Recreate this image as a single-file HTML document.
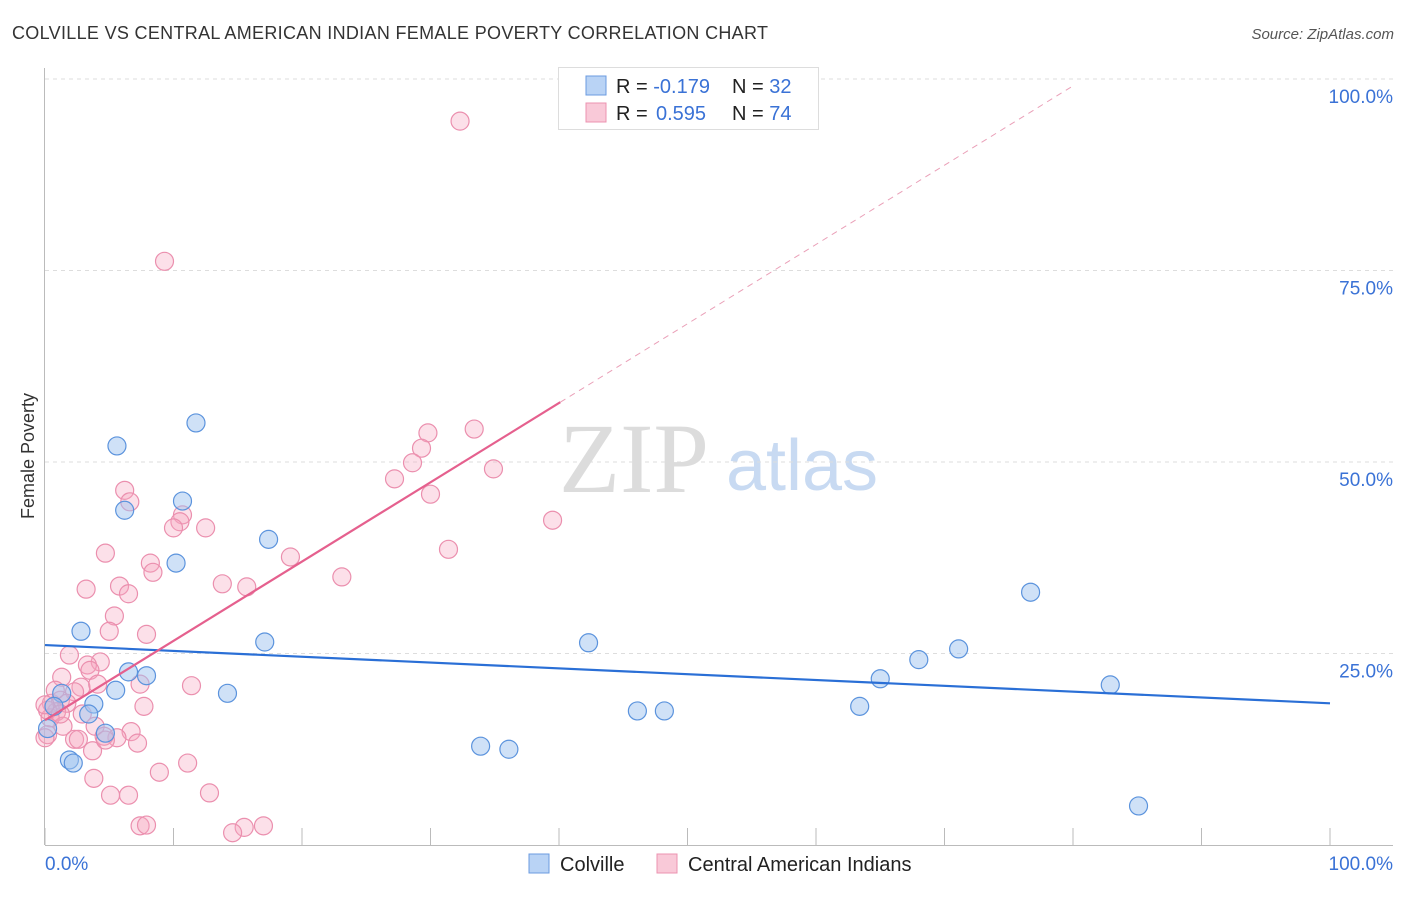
<!DOCTYPE html>
<html><head><meta charset="utf-8"><style>
body{margin:0;background:#fff;font-family:"Liberation Sans",sans-serif}
</style></head><body>
<svg id="c" width="1406" height="892" xmlns="http://www.w3.org/2000/svg" font-family="Liberation Sans, sans-serif">
<text x="12" y="39" font-size="18" fill="#333" textLength="756">COLVILLE VS CENTRAL AMERICAN INDIAN FEMALE POVERTY CORRELATION CHART</text>
<text x="1394" y="39" font-size="15" fill="#555" font-style="italic" text-anchor="end">Source: ZipAtlas.com</text>
<text transform="translate(34,456) rotate(-90)" font-size="18" fill="#333" text-anchor="middle">Female Poverty</text>
<g><text x="634" y="492" font-size="100" fill="#dcdcdc" style="font-family:'Liberation Serif',serif" text-anchor="middle">ZIP</text><text x="802" y="490" font-size="72" fill="#c8daf2" text-anchor="middle">atlas</text></g>
<g id="grid"></g><g id="pts"></g><g id="lines"></g>
<g>
<rect x="558.5" y="67.5" width="260" height="62" fill="#fff" stroke="#ddd"/>
<rect x="586" y="76" width="20" height="19" fill="#b9d3f5" stroke="#6b9be0"/>
<rect x="586" y="103" width="20" height="19" fill="#f9c9d8" stroke="#ec93b0"/>
<text x="616" y="93" font-size="20" fill="#222">R = <tspan fill="#3a72d6">-0.179</tspan><tspan x="732">N = </tspan><tspan fill="#3a72d6">32</tspan></text>
<text x="616" y="120" font-size="20" fill="#222">R = <tspan x="656" fill="#3a72d6">0.595</tspan><tspan x="732">N = </tspan><tspan fill="#3a72d6">74</tspan></text>
</g>
<g>
<rect x="529" y="854" width="20" height="19" fill="#b9d3f5" stroke="#6b9be0"/>
<text x="560" y="871" font-size="20" fill="#222">Colville</text>
<rect x="657" y="854" width="20" height="19" fill="#f9c9d8" stroke="#ec93b0"/>
<text x="688" y="871" font-size="20" fill="#222">Central American Indians</text>
</g>
</svg>
<script>
const blueX=[5.6,11.75,6.2,10.7,10.2,17.4,2.8,6.5,7.9,5.5,14.2,1.3,3.8,3.4,0.7,0.2,4.7,1.9,2.2,17.1,33.9,36.1,42.3,46.1,48.2,63.4,65.0,68.0,71.1,76.7,82.9,85.1];
const blueY=[52.1,55.1,43.7,44.9,36.8,39.9,27.9,22.6,22.1,20.2,19.8,19.8,18.4,17.1,18.1,15.2,14.6,11.1,10.7,26.5,12.9,12.5,26.4,17.5,17.5,18.1,21.7,24.2,25.6,33.0,20.9,5.1];
const pinkX=[32.3,9.3,33.4,29.8,29.3,28.6,27.2,34.9,30.0,6.2,6.6,10.7,10.5,10.0,12.5,39.5,31.4,4.7,8.2,8.4,19.1,23.1,13.8,15.7,5.8,6.5,3.2,5.4,5.0,7.9,1.9,4.3,3.3,3.5,2.8,1.3,4.1,2.3,7.4,11.4,0.5,1.2,1.7,7.7,0.9,2.9,0.4,0.2,1.4,3.9,2.3,2.6,6.7,5.6,4.6,7.2,3.7,11.1,8.9,3.8,12.8,5.1,6.5,7.4,7.9,15.5,17.0,14.6,0,0.2,1.2,0,0.8,4.7];
const pinkY=[94.5,76.2,54.3,53.8,51.8,49.9,47.8,49.1,45.8,46.3,44.8,43.1,42.2,41.4,41.4,42.4,38.6,38.1,36.8,35.6,37.6,35.0,34.1,33.7,33.8,32.8,33.4,29.9,27.9,27.5,24.8,23.9,23.5,22.8,20.6,21.9,21.0,20.0,21.0,20.8,18.5,18.9,18.5,18.1,17.4,17.1,16.6,14.4,15.5,15.5,13.8,13.8,14.8,14.0,14.2,13.3,12.3,10.7,9.5,8.7,6.8,6.5,6.5,2.5,2.6,2.3,2.5,1.6,14.0,17.6,17.1,18.3,20.2,13.7];
const yTicks=[25,50,75,100];
const yTickLabels=["25.0%","50.0%","75.0%","100.0%"];
const blueTrend=[26.1,18.5];
const pinkTrend=[16.3,1.035];
const NS="http://www.w3.org/2000/svg";
const X=v=>45+v*12.85, Y=v=>845-v*7.66;
function mk(tag,attrs,parent){const e=document.createElementNS(NS,tag);for(const k in attrs)e.setAttribute(k,attrs[k]);document.getElementById(parent).appendChild(e);return e;}
yTicks.forEach((t,i)=>{
 const g=mk('line',{x1:45,x2:1393,y1:Y(t),y2:Y(t),stroke:'#ddd','stroke-dasharray':'4 4'},'grid');
 
 
 const l=mk('text',{x:1393,y:Y(t)+24,'font-size':19,fill:'#3a72d6','text-anchor':'end'},'grid');
 l.textContent=yTickLabels[i];
 
 
});
mk('line',{x1:44.5,x2:44.5,y1:68,y2:845,stroke:'#bbb'},'grid');
mk('line',{x1:45,x2:1393,y1:845.5,y2:845.5,stroke:'#bbb'},'grid');
for(let i=0;i<=10;i++){mk('line',{x1:X(i*10),x2:X(i*10),y1:828,y2:845,stroke:'#bbb'},'grid');}
let t0=mk('text',{x:45,y:870,'font-size':19,fill:'#3a72d6'},'grid');t0.textContent='0.0%';


let t1=mk('text',{x:1393,y:870,'font-size':19,fill:'#3a72d6','text-anchor':'end'},'grid');t1.textContent='100.0%';


pinkX.forEach((x,i)=>{const c=mk('circle',{cx:X(x),cy:Y(pinkY[i]),r:9,fill:'rgba(245,165,192,0.35)',stroke:'#eb8fae','stroke-width':1.2},'pts');
 
 });
blueX.forEach((x,i)=>{const c=mk('circle',{cx:X(x),cy:Y(blueY[i]),r:9,fill:'rgba(160,196,240,0.5)',stroke:'#5b93dd','stroke-width':1.2},'pts');
 
 });
const bl=mk('line',{x1:X(0),y1:Y(blueTrend[0]),x2:X(100),y2:Y(blueTrend[1]),stroke:'#2a6fd6','stroke-width':2.2},'lines');


const pl=mk('line',{x1:X(0),y1:Y(pinkTrend[0]),x2:X(40.1),y2:Y(pinkTrend[0]+pinkTrend[1]*40.1),stroke:'#e5608e','stroke-width':2.2},'lines');


const xe=(99.2-pinkTrend[0])/pinkTrend[1];
const pd=mk('line',{x1:X(40.1),y1:Y(pinkTrend[0]+pinkTrend[1]*40.1),x2:X(xe),y2:Y(99.2),stroke:'#eaa0b8','stroke-width':1,'stroke-dasharray':'6 5'},'lines');


</script>
</body></html>
